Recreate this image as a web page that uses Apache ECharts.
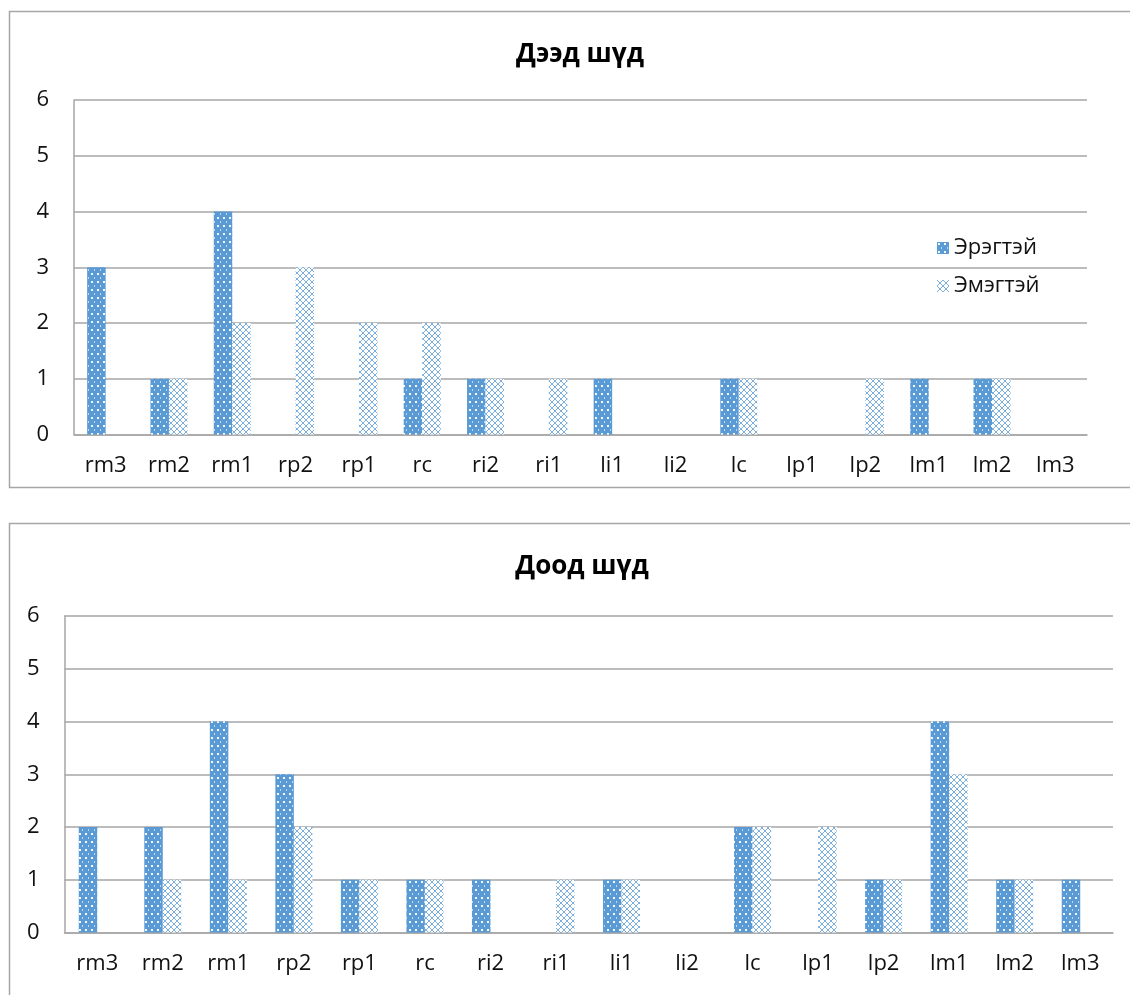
<!DOCTYPE html>
<html>
<head>
<meta charset="utf-8">
<script src="https://cdn.jsdelivr.net/npm/echarts@6/dist/echarts.min.js"></script>
<style>
html,body{margin:0;padding:0;background:#fff;}
#chart{width:1130px;height:995px;}
</style>
</head>
<body>
<div id="chart"></div>
<script>
const categories = ['rm3','rm2','rm1','rp2','rp1','rc','ri2','ri1','li1','li2','lc','lp1','lp2','lm1','lm2','lm3'];
const seriesNames = ['Эрэгтэй','Эмэгтэй'];
const upperTitle = 'Дээд шүд';
const lowerTitle = 'Доод шүд';
const upperMale   = [3,1,4,0,0,1,1,0,1,0,1,0,0,1,1,0];
const upperFemale = [0,1,2,3,2,2,1,1,0,0,1,0,1,0,1,0];
const lowerMale   = [2,2,4,3,1,1,1,0,1,0,2,0,1,4,1,1];
const lowerFemale = [0,1,1,2,1,1,0,1,1,0,2,2,1,3,1,0];
const yTicks = [0,1,2,3,4,5,6];

const BLUE = '#5B9BD5';
function dotPattern(){
  const c = document.createElement('canvas');
  c.width = 6; c.height = 8;
  const g = c.getContext('2d');
  g.fillStyle = BLUE; g.fillRect(0,0,6,8);
  g.fillStyle = 'rgba(255,255,255,0.95)';
  g.fillRect(1,1,2,2);
  g.fillStyle = 'rgba(255,255,255,0.6)';
  g.fillRect(4,5,1,2);
  return c;
}
function crossPattern(){
  const c = document.createElement('canvas');
  c.width = 6; c.height = 6;
  const g = c.getContext('2d');
  g.fillStyle = '#ffffff'; g.fillRect(0,0,6,6);
  g.fillStyle = 'rgba(91,155,213,0.8)';
  for(let i=0;i<6;i++){ g.fillRect(i,i,1,1); g.fillRect(5-i,i,1,1); }
  return c;
}
const maleColor = {image: dotPattern(), repeat: 'repeat'};
const femaleColor = {image: crossPattern(), repeat: 'repeat'};

const FONT = 'Open Sans';
const LABEL = {fontFamily: FONT, fontSize: 22, color: '#111'};
const GRIDC = '#A6A6A6';

function xAxisFor(idx){
  return {type:'category', gridIndex: idx, data: categories,
    axisLine:{show:true, lineStyle:{color:GRIDC, width:1.5}},
    axisTick:{show:false},
    axisLabel:Object.assign({margin:20, interval:0}, LABEL)};
}
function yAxisFor(idx){
  return {type:'value', gridIndex: idx, min: yTicks[0], max: yTicks[yTicks.length-1], interval: 1,
    axisLine:{show:true, lineStyle:{color:GRIDC, width:1.5}},
    axisTick:{show:false},
    splitLine:{show:true, lineStyle:{color:GRIDC, width:1.5}},
    axisLabel:Object.assign({margin:25}, LABEL)};
}
function bar(name, data, color, idx){
  return {name, type:'bar', xAxisIndex: idx, yAxisIndex: idx, data,
    barWidth: 18.5, barGap: '0%',
    itemStyle:{color}, emphasis:{disabled:true}};
}

const chart = echarts.init(document.getElementById('chart'), null, {renderer:'canvas'});
chart.setOption({
  animation: false,
  backgroundColor: '#fff',
  graphic: [
    {type:'rect', shape:{x:9.5, y:11.5, width:1140, height:476}, style:{fill:'none', stroke:'#A6A6A6', lineWidth:1.5}, silent:true},
    {type:'rect', shape:{x:9.5, y:523.5, width:1140, height:500}, style:{fill:'none', stroke:'#A6A6A6', lineWidth:1.5}, silent:true}
  ],
  title: [
    {text: upperTitle, left: 575, top: 37, textAlign:'center', textStyle:{fontFamily:FONT, fontSize:26, fontWeight:'bold', color:'#000'}},
    {text: lowerTitle, left: 577, top: 549, textAlign:'center', textStyle:{fontFamily:FONT, fontSize:26, fontWeight:'bold', color:'#000'}}
  ],
  legend: {
    data: seriesNames, orient:'vertical', left: 932, top: 232, itemGap: 16,
    itemWidth: 12, itemHeight: 12, icon: 'rect',
    textStyle: {fontFamily:FONT, fontSize:22, color:'#111'}
  },
  grid: [
    {left: 74, right: 43, top: 100, bottom: 560.5},
    {left: 64.5, right: 17, top: 616, bottom: 62.5}
  ],
  xAxis: [xAxisFor(0), xAxisFor(1)],
  yAxis: [yAxisFor(0), yAxisFor(1)],
  series: [
    bar(seriesNames[0], upperMale, maleColor, 0),
    bar(seriesNames[1], upperFemale, femaleColor, 0),
    bar(seriesNames[0], lowerMale, maleColor, 1),
    bar(seriesNames[1], lowerFemale, femaleColor, 1)
  ]
});
</script>
</body>
</html>
